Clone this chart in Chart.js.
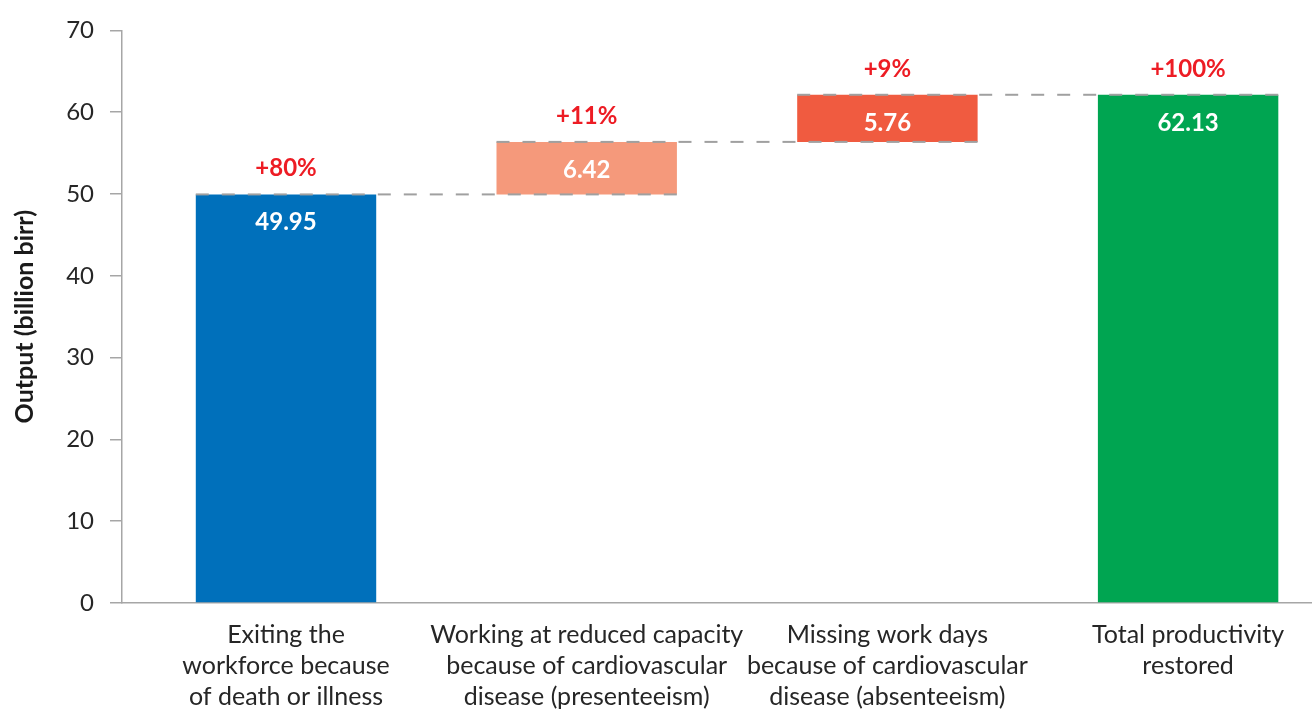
<!DOCTYPE html>
<html>
<head>
<meta charset="utf-8">
<script src="https://cdn.jsdelivr.net/npm/chart.js@4.4.1/dist/chart.umd.min.js"></script>
<style>
  html, body { margin: 0; padding: 0; background: #ffffff; }
  #wrap { width: 1313px; height: 709px; position: relative; }
</style>
</head>
<body>
<div id="wrap"><canvas id="c" width="1313" height="709"></canvas></div>
<script>
// ---- data ----
const categories = [
  ['Exiting the', 'workforce because', 'of death or illness'],
  ['Working at reduced capacity', 'because of cardiovascular', 'disease (presenteeism)'],
  ['Missing work days', 'because of cardiovascular', 'disease (absenteeism)'],
  ['Total productivity', 'restored']
];
const barValues = [49.95, 6.42, 5.76, 62.13];
const barKinds = ['start', 'delta', 'delta', 'total'];
const percentLabels = ['+80%', '+11%', '+9%', '+100%'];
const yTickValues = [0, 10, 20, 30, 40, 50, 60, 70];
const barColors = ['#0070BB', '#F5997B', '#F05B40', '#00A551'];

// build floating ranges from the values
const ranges = [];
let running = 0;
barValues.forEach((v, i) => {
  if (barKinds[i] === 'total') { ranges.push([0, v]); running = v; }
  else if (barKinds[i] === 'start') { ranges.push([0, v]); running = v; }
  else { ranges.push([running, running + v]); running += v; }
});
const points = ranges.map((r, i) => ({ x: i, y: r }));

const FONT = 'Lato, "Open Sans", sans-serif';

const waterfallPlugin = {
  id: 'waterfall',
  afterDatasetsDraw(chart) {
    const ctx = chart.ctx;
    const meta = chart.getDatasetMeta(0);
    const yScale = chart.scales.y;
    ctx.save();
    // connectors
    ctx.strokeStyle = '#A0A0A0';
    ctx.lineWidth = 2;
    ctx.setLineDash([13, 13]);
    for (let i = 0; i < meta.data.length - 1; i++) {
      const a = meta.data[i], b = meta.data[i + 1];
      const yv = yScale.getPixelForValue(ranges[i][1]);
      const x1 = a.x - a.width / 2;
      const x2 = b.x + b.width / 2;
      ctx.beginPath();
      ctx.moveTo(x1, yv);
      ctx.lineTo(x2, yv);
      ctx.stroke();
    }
    ctx.setLineDash([]);
    // labels
    ctx.textAlign = 'center';
    ctx.textBaseline = 'middle';
    meta.data.forEach((bar, i) => {
      const top = yScale.getPixelForValue(ranges[i][1]);
      ctx.font = 'bold 24px ' + FONT;
      ctx.fillStyle = '#FFFFFF';
      ctx.fillText(barValues[i].toFixed(2), bar.x, top + 28);
      ctx.fillStyle = '#ED1C24';
      ctx.fillText(percentLabels[i], bar.x, top - 26);
    });
    ctx.restore();
  }
};

new Chart(document.getElementById('c'), {
  type: 'bar',
  data: {
    datasets: [{
      data: points,
      backgroundColor: barColors,
      borderWidth: 0,
      barPercentage: 0.6,
      categoryPercentage: 1.0
    }]
  },
  options: {
    responsive: false,
    animation: false,
    layout: { padding: { top: 30, right: 2, bottom: 0, left: 0 } },
    plugins: { legend: { display: false }, tooltip: { enabled: false } },
    scales: {
      x: {
        type: 'linear',
        offset: false,
        min: -0.5454,
        max: 3.4087,
        grid: { display: false, drawTicks: false },
        border: { display: true, color: '#A6A6A6', width: 1.5 },
        afterBuildTicks: (scale) => { scale.ticks = categories.map((c, i) => ({ value: i })); },
        afterFit: (scale) => { scale.height = 106; },
        ticks: {
          autoSkip: false,
          maxRotation: 0,
          padding: 16,
          color: '#262626',
          font: { family: FONT, size: 25, lineHeight: 1.24 },
          callback: (v) => categories[v]
        }
      },
      y: {
        min: 0,
        max: 70,
        afterBuildTicks: (scale) => { scale.ticks = yTickValues.map(v => ({ value: v })); },
        afterFit: (scale) => { scale.width = 122; },
        grid: { drawOnChartArea: false, drawTicks: true, tickLength: 12, color: '#A6A6A6', lineWidth: 1.5 },
        border: { display: true, color: '#A6A6A6', width: 1.5 },
        ticks: {
          padding: 16,
          color: '#262626',
          font: { family: FONT, size: 24 }
        },
        title: {
          display: true,
          text: 'Output (billion birr)',
          color: '#1A1A1A',
          font: { family: FONT, size: 25, weight: 'bold' },
          padding: { top: 10, bottom: 0 }
        }
      }
    }
  },
  plugins: [waterfallPlugin]
});
</script>
</body>
</html>
